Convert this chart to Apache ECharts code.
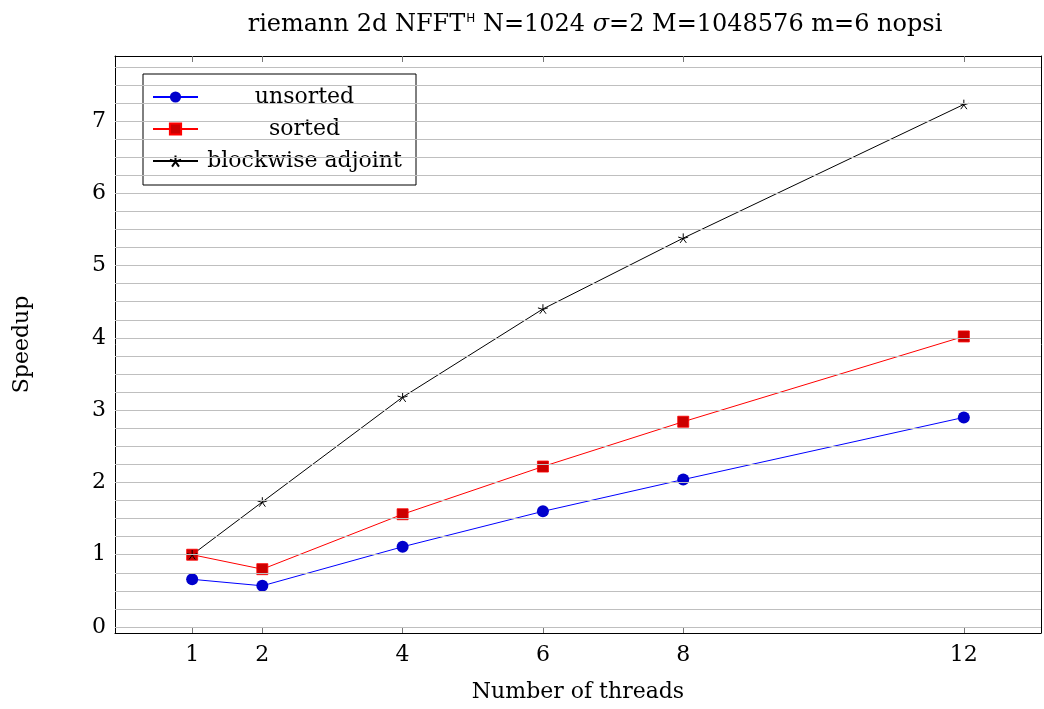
<!DOCTYPE html>
<html>
<head>
<meta charset="utf-8">
<script src="https://cdn.jsdelivr.net/npm/echarts@6/dist/echarts.min.js"></script>
<style>
  html, body { margin: 0; padding: 0; background: #fff; }
  #main { width: 1044px; height: 709px; }
</style>
</head>
<body>
<div id="main"></div>
<script>
const chart = echarts.init(document.getElementById('main'))

const threads = [1, 2, 4, 6, 8, 12]
const unsorted = [0.66, 0.57, 1.11, 1.60, 2.04, 2.90]
const sorted = [1.00, 0.80, 1.56, 2.22, 2.84, 4.02]
const blockwise = [1.00, 1.73, 3.18, 4.40, 5.38, 7.23]
const xTicks = [1, 2, 4, 6, 8, 12]
const yLabels = [0, 1, 2, 3, 4, 5, 6, 7]
const yMinorStep = 0.25

// minor grid positions, every 0.25 between 0 and 7.75
const yGrid = []
for (let v = 0; v <= 7.75 + 1e-9; v += yMinorStep) yGrid.push(+v.toFixed(2))

const serif = 'DejaVu Serif'
const fs = 22
const pairs = (ys) => threads.map((t, i) => [t, ys[i]])

// 5-armed asterisk like the pgfplots "star" mark
const starPath = 'path://M0 0 L0 -1 M0 0 L-0.951 -0.309 M0 0 L-0.588 0.809 M0 0 L0.588 0.809 M0 0 L0.951 -0.309'

const boxLine = { show: true, onZero: false, lineStyle: { color: '#000', width: 1 } }

let option = {
  backgroundColor: '#fff',
  animation: false,
  title: {
    text: 'riemann 2d NFFT{sup|H} N=1024 {i|σ}=2 M=1048576 m=6 nopsi',
    left: 590,
    textAlign: 'center',
    top: 8,
    textStyle: {
      fontFamily: serif,
      fontSize: 24,
      fontWeight: 'normal',
      color: '#000',
      rich: {
        sup: { fontFamily: 'DejaVu Sans', fontSize: 12, verticalAlign: 'top', padding: [0, 0, 11, 1] },
        i: { fontFamily: serif, fontSize: 24, fontStyle: 'italic' }
      }
    }
  },
  grid: { left: 115, right: 3, top: 56, bottom: 76 },
  legend: {
    left: 143,
    top: 74,
    orient: 'vertical',
    data: ['unsorted', 'sorted', 'blockwise adjoint'],
    backgroundColor: '#fff',
    borderColor: '#000',
    borderWidth: 1,
    borderRadius: 0,
    padding: [12, 10, 13, 9],
    itemGap: 10,
    itemWidth: 45,
    itemHeight: 14,
    formatter: (name) => '{c|' + name + '}',
    textStyle: {
      fontFamily: serif,
      fontSize: fs,
      color: '#000',
      rich: { c: { width: 203, align: 'center', fontFamily: serif, fontSize: fs, lineHeight: 20 } }
    }
  },
  xAxis: [{
    type: 'value',
    min: -0.1,
    max: 13.1,
    name: 'Number of threads',
    nameLocation: 'middle',
    nameGap: 48,
    nameTextStyle: { fontFamily: serif, fontSize: fs, color: '#000' },
    axisLine: boxLine,
    splitLine: { show: false },
    axisTick: { inside: true, length: 6, customValues: xTicks, lineStyle: { color: '#777' } },
    axisLabel: { customValues: xTicks, margin: 11, fontFamily: serif, fontSize: fs, color: '#000' }
  }, {
    type: 'value',
    position: 'top',
    min: -0.1,
    max: 13.1,
    axisLine: boxLine,
    splitLine: { show: false },
    axisTick: { inside: true, length: 6, customValues: xTicks, lineStyle: { color: '#777' } },
    axisLabel: { show: false }
  }],
  yAxis: [{
    type: 'value',
    min: -0.083,
    max: 7.9,
    name: 'Speedup',
    nameLocation: 'middle',
    nameRotate: 90,
    nameGap: 82,
    nameTextStyle: { fontFamily: serif, fontSize: fs, color: '#000' },
    axisLine: boxLine,
    splitLine: { show: false },
    axisTick: { show: true, inside: true, length: 5, customValues: yGrid, lineStyle: { color: '#777' } },
    axisLabel: { customValues: yLabels, margin: 9, fontFamily: serif, fontSize: fs, color: '#000' }
  }, {
    type: 'value',
    position: 'right',
    min: -0.083,
    max: 7.9,
    axisLine: boxLine,
    splitLine: { show: false },
    axisTick: { show: true, inside: true, length: 5, customValues: yGrid, lineStyle: { color: '#777' } },
    axisLabel: { show: false }
  }],
  series: [
    {
      name: 'grid',
      type: 'line',
      data: [],
      silent: true,
      markLine: {
        silent: true,
        symbol: 'none',
        label: { show: false },
        lineStyle: { color: '#bfbfbf', width: 1, type: 'solid' },
        data: yGrid.map(v => ({ yAxis: v }))
      }
    },
    {
      name: 'unsorted',
      type: 'line',
      data: pairs(unsorted),
      symbol: 'circle',
      symbolSize: 12,
      lineStyle: { color: '#0000ff', width: 1 },
      itemStyle: { color: '#0000cc', borderColor: '#0000ff', borderWidth: 0 }
    },
    {
      name: 'sorted',
      type: 'line',
      data: pairs(sorted),
      symbol: 'rect',
      symbolSize: 11,
      lineStyle: { color: '#ff0000', width: 1 },
      itemStyle: { color: '#cc0000', borderColor: '#ff0000', borderWidth: 0.8 }
    },
    {
      name: 'blockwise adjoint',
      type: 'line',
      data: pairs(blockwise),
      symbol: starPath,
      symbolSize: 10,
      symbolKeepAspect: true,
      lineStyle: { color: '#000', width: 1 },
      itemStyle: { color: '#000', borderColor: '#000', borderWidth: 1 }
    }
  ]
}

chart.setOption(option)
</script>
</body>
</html>
